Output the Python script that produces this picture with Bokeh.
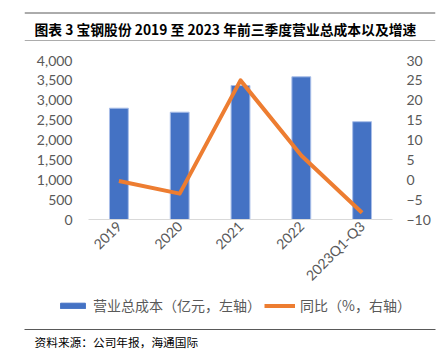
import math
from bokeh.plotting import figure
from bokeh.models import (Range1d, LinearAxis, FactorRange, NumeralTickFormatter,
                          FixedTicker, Legend, LegendItem, Label, ColumnDataSource)
from bokeh.embed import file_html
from bokeh.resources import INLINE

categories = ["2019", "2020", "2021", "2022", "2023Q1-Q3"]
cost = [2800, 2700, 3370, 3590, 2460]
yoy = [-0.3, -3.5, 25.0, 6.1, -8.3]
left_ticks = [0, 500, 1000, 1500, 2000, 2500, 3000, 3500, 4000]
right_ticks = [-10, -5, 0, 5, 10, 15, 20, 25, 30]

title_text = "图表 3 宝钢股份 2019 至 2023 年前三季度营业总成本以及增速"
source_text = "资料来源：公司年报，海通国际"
bar_label = "营业总成本（亿元，左轴）"
line_label = "同比（%，右轴）"

W = 446
FONT = "Lato"
CJK = "Noto Sans CJK SC"
GRAY = "#595959"
BAR_COLOR = "#4472C4"
LINE_COLOR = "#ED7D31"
RULE = "#595959"

src = ColumnDataSource(dict(cat=categories, cost=cost, yoy=yoy))


def rule_axis():
    ax = LinearAxis(ticker=FixedTicker(ticks=[]))
    ax.axis_line_color = RULE
    ax.axis_line_width = 1
    ax.major_tick_line_color = None
    ax.minor_tick_line_color = None
    ax.major_tick_out = 0
    ax.major_tick_in = 0
    ax.major_label_standoff = 0
    ax.major_label_text_font_size = "0px"
    return ax


def blank_fig(height, x_range=None, y_range=None, **kw):
    f = figure(width=W, height=height, x_range=x_range or Range1d(0, 1),
               y_range=y_range or Range1d(0, 1), title=None,
               output_backend="svg", toolbar_location=None, x_axis_location=None,
               y_axis_location=None, **kw)
    f.outline_line_color = None
    f.grid.grid_line_color = None
    return f


# ---- title strip (page y 0..41): frame covers the strip in pixel units;
#      the two decorative rules are drawn as segments across the frame
TH = 41
top = blank_fig(TH, y_range=Range1d(0, TH), min_border_left=24, min_border_right=11,
                min_border_top=0, min_border_bottom=0)
rule_rows = [TH - 12.5, TH - 40.5]
top.segment(x0=[0, 0], x1=[1, 1], y0=rule_rows, y1=rule_rows,
            line_color=RULE, line_width=1)
top.add_layout(Label(x=10, y=13, x_units="screen", y_units="screen", text=title_text,
                     text_font=CJK, text_font_style="bold", text_font_size="13.8px",
                     text_color="#000000", text_baseline="middle"))

# ---- main chart (page y 41..~294)
p = figure(frame_width=304, frame_height=159, x_range=FactorRange(*categories),
           y_range=Range1d(0, 4000), title=None,
           output_backend="svg", toolbar_location=None,
           min_border_left=88, min_border_right=54, min_border_top=19, min_border_bottom=70)
p.outline_line_color = None
p.xgrid.grid_line_color = None
p.ygrid.grid_line_color = None
p.extra_y_ranges = {"yoy": Range1d(-10, 30)}

p.vbar(x="cat", top="cost", width=0.31, source=src, fill_color=BAR_COLOR,
       line_color="#A9BEE8", line_width=1)
p.line(x="cat", y="yoy", source=src, y_range_name="yoy", line_color=LINE_COLOR,
       line_width=4, line_join="round")


def style_axis(ax):
    ax.axis_line_color = None
    ax.major_tick_line_color = None
    ax.minor_tick_line_color = None
    ax.major_tick_out = 0
    ax.major_tick_in = 0
    ax.major_label_text_font = FONT
    ax.major_label_text_font_size = "14px"
    ax.major_label_text_color = GRAY


yl = p.yaxis[0]
style_axis(yl)
yl.ticker = FixedTicker(ticks=left_ticks)
yl.formatter = NumeralTickFormatter(format="0,0")
yl.major_label_standoff = 16

yr = LinearAxis(y_range_name="yoy", ticker=FixedTicker(ticks=right_ticks))
style_axis(yr)
yr.major_label_standoff = 14
p.add_layout(yr, "right")

xa = p.xaxis[0]
style_axis(xa)
xa.axis_line_color = "#D9D9D9"
xa.axis_line_width = 1
xa.major_label_orientation = math.pi / 4
xa.major_label_standoff = 4

# ---- legend strip (page y ~294..320); its renderers use the same data but lie outside its view
leg = blank_fig(26, x_range=FactorRange(*categories), y_range=Range1d(5000, 6000),
                min_border_left=0, min_border_right=0, min_border_top=0, min_border_bottom=0)
leg.extra_y_ranges = {"yoy": Range1d(100, 200)}
r_bar = leg.vbar(x="cat", top="cost", width=0.3, source=src, fill_color=BAR_COLOR,
                 line_color=BAR_COLOR)
r_line = leg.line(x="cat", y="yoy", source=src, y_range_name="yoy",
                  line_color=LINE_COLOR, line_width=4)
legend = Legend(items=[LegendItem(label=bar_label, renderers=[r_bar]),
                       LegendItem(label=line_label, renderers=[r_line])],
                orientation="horizontal", location=(57, 3),
                label_text_font=CJK, label_text_font_size="14px",
                label_text_color=GRAY, glyph_width=31, glyph_height=7,
                label_standoff=5, spacing=3, padding=0, margin=0,
                border_line_color=None, background_fill_alpha=0)
leg.add_layout(legend, "center")

# ---- source strip (page y 320..355)
bot = blank_fig(35, min_border_left=24, min_border_right=11, min_border_top=11, min_border_bottom=0)
bot.add_layout(rule_axis(), "above")
bot.add_layout(Label(x=10, y=12, x_units="screen", y_units="screen", text=source_text,
                     text_font=CJK, text_font_size="11.7px",
                     text_color="#000000", text_baseline="middle"))

open("out.html", "w").write(file_html([top, p, leg, bot], INLINE))
